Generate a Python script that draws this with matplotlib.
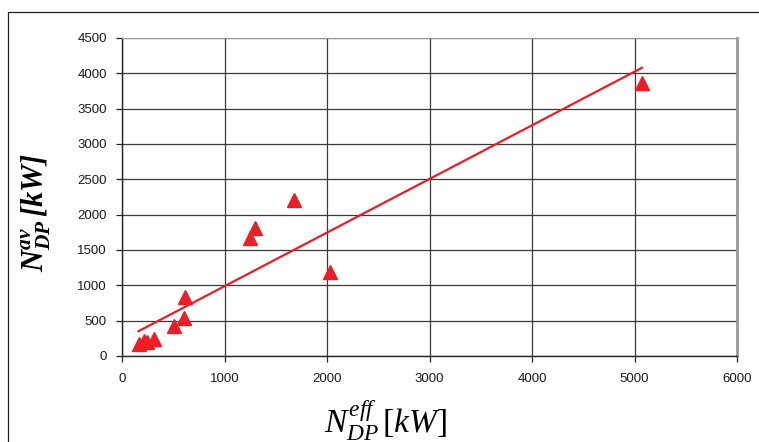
import matplotlib.pyplot as plt
import numpy as np
from matplotlib.patches import Rectangle

# effective vs. available power [kW]
n_eff = [161, 214, 243, 316, 506, 604, 613, 1246, 1295, 1675, 2032, 5073]
n_av = [170, 212, 200, 240, 424, 537, 834, 1669, 1810, 2207, 1188, 3862]

x_ticks = [0, 1000, 2000, 3000, 4000, 5000, 6000]
y_ticks = [0, 500, 1000, 1500, 2000, 2500, 3000, 3500, 4000, 4500]

red = '#ee1c25'

plt.rcParams['font.family'] = 'Liberation Sans'
plt.rcParams['mathtext.fontset'] = 'custom'
plt.rcParams['mathtext.rm'] = 'Liberation Serif'
plt.rcParams['mathtext.it'] = 'Liberation Serif:italic'
plt.rcParams['mathtext.bf'] = 'Liberation Serif:italic:bold'

W, H = 759, 442
fig = plt.figure(figsize=(W / 100, H / 100), dpi=100)
ax = fig.add_axes([122 / W, 1 - 356 / H, (737 - 122) / W, (356 - 38) / H])

# chart frame
fig.patches.append(Rectangle((8 / W, -0.1), 1.2, (H - 12) / H + 0.1,
                             transform=fig.transFigure, fill=False,
                             edgecolor='#222222', lw=0.9))

x = np.array(n_eff, dtype=float)
y = np.array(n_av, dtype=float)

# linear trend over the data range
k, b = np.polyfit(x, y, 1)
xt = np.array([x.min(), x.max()])
ax.plot(xt, k * xt + b, color=red, lw=1.6, zorder=3)
ax.plot(x, y, '^', color=red, ms=10, mec=red, zorder=4, clip_on=False)

ax.set_xlim(0, 6000)
ax.set_ylim(0, 4500)
ax.set_xticks(x_ticks)
ax.set_yticks(y_ticks)
ax.grid(True, color='#3a3a3a', lw=0.9)
ax.set_axisbelow(True)

ax.tick_params(labelsize=9.5, labelcolor='#1a1a1a', length=4, width=0.9,
               color='#222222')
ax.tick_params(axis='x', pad=8)
ax.tick_params(axis='y', pad=7)
for side in ('left', 'bottom'):
    ax.spines[side].set_color('#222222')
    ax.spines[side].set_linewidth(1.0)
ax.spines['top'].set_color('#999999')
ax.spines['right'].set_color('#999999')
ax.spines['right'].set_linewidth(2.0)

fig.text(385 / W, 1 - 420 / H, r'$N_{DP}^{eff}\,[kW]$', fontsize=24,
         ha='center', va='center')
fig.text(36 / W, 1 - 212 / H,
         r'$\mathbf{N}_{\mathbf{DP}}^{\mathbf{av}}\,\mathbf{[kW]}$',
         fontsize=22, rotation=90, ha='center', va='center')

fig.savefig('out.png', dpi=100)
